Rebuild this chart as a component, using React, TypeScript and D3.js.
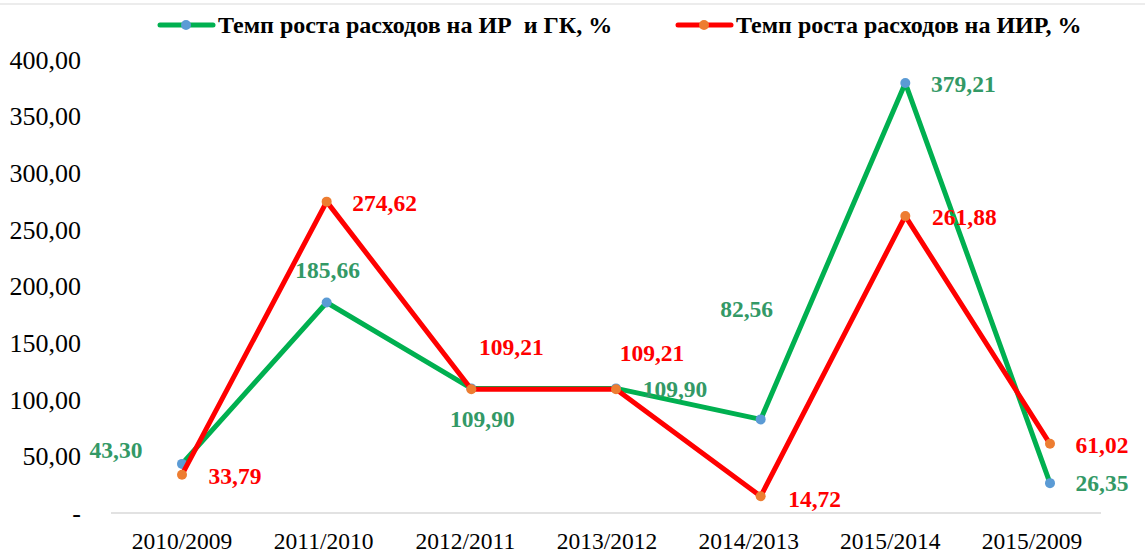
import * as d3 from 'd3';
import React from 'react';

// categories and series values
const categories = ['2010/2009', '2011/2010', '2012/2011', '2013/2012', '2014/2013', '2015/2014', '2015/2009'];
const irGk = [43.3, 185.66, 109.9, 109.9, 82.56, 379.21, 26.35];
const iir = [33.79, 274.62, 109.21, 109.21, 14.72, 261.88, 61.02];
const yTicks = [0, 50, 100, 150, 200, 250, 300, 350, 400];
const seriesNames = ['Темп роста расходов на ИР  и ГК, %', 'Темп роста расходов на ИИР, %'];

// label offsets (dx, dy) from each point
const greenOffsets = [[-66, -14], [1, -33], [11, 30], [59, 0], [-14, -111], [58, 1], [52, 0]];
const redOffsets = [[53, 1], [58, 1], [40, -42], [36, -36], [54, 2], [59, 1], [52, 1]];

const W = 1145;
const H = 557;

const fmt = (v: number) => v.toFixed(2).replace('.', ',');

export default function App() {
  // points and category labels sit on slightly different grids in the original
  const x = d3.scalePoint<string>().domain(categories).range([182, 1050]);
  const xl = d3.scalePoint<string>().domain(categories).range([182, 1032]);
  const y = d3.scaleLinear().domain([0, 400]).range([513, 59.5]);

  const line = d3.line<number>().x((_, i) => x(categories[i]) as number).y(d => y(d));

  const serif = '"Liberation Serif", "Times New Roman", serif';
  const series = [
    { data: irGk, color: '#00b050', marker: '#5b9bd5', label: '#339966', offsets: greenOffsets },
    { data: iir, color: '#ff0000', marker: '#ed7d31', label: '#ff0000', offsets: redOffsets },
  ];
  const legendX = [158, 676];

  return (
    <svg width={W} height={H} style={{ position: 'absolute', left: 0, top: 0, background: '#fff' }} fontFamily={serif}>
      <line x1={0} x2={W} y1={4} y2={4} stroke="#d9d9d9" strokeWidth={1} />
      {/* y axis tick labels */}
      {yTicks.map(t => (
        <text key={t} x={81} y={y(t)} dy="0.35em" textAnchor="end" fontSize={26} fill="#000">
          {t === 0 ? '-' : fmt(t)}
        </text>
      ))}
      {/* x axis */}
      <line x1={111} x2={1101} y1={y(0)} y2={y(0)} stroke="#d9d9d9" strokeWidth={1.5} />
      {categories.map(c => (
        <text key={c} x={xl(c)} y={y(0) + 36} textAnchor="middle" fontSize={23.5} fill="#000">{c}</text>
      ))}
      {/* series lines */}
      {series.map((s, k) => (
        <g key={k}>
          <path d={line(s.data) as string} fill="none" stroke={s.color} strokeWidth={5} strokeLinejoin="round" strokeLinecap="round" />
          {s.data.map((v, i) => (
            <circle key={i} cx={x(categories[i])} cy={y(v)} r={5} fill={s.marker} />
          ))}
        </g>
      ))}
      {/* data labels */}
      {series.map((s, k) => (
        <g key={'l' + k}>
          {s.data.map((v, i) => (
            <text key={i} x={(x(categories[i]) as number) + s.offsets[i][0]} y={y(v) + s.offsets[i][1]} dy="0.35em"
              textAnchor="middle" fontSize={23.5} fontWeight="bold" fill={s.label}>{fmt(v)}</text>
          ))}
        </g>
      ))}
      {/* legend */}
      {series.map((s, k) => (
        <g key={'g' + k} transform={`translate(${legendX[k]},25)`}>
          <line x1={2} x2={55} y1={0} y2={0} stroke={s.color} strokeWidth={5} strokeLinecap="round" />
          <circle cx={28} cy={0} r={5} fill={s.marker} />
          <text x={60} y={0} dy="0.35em" fontSize={24} fontWeight="bold" fill="#000" style={{ whiteSpace: 'pre' }}>
            {seriesNames[k]}
          </text>
        </g>
      ))}
    </svg>
  );
}
